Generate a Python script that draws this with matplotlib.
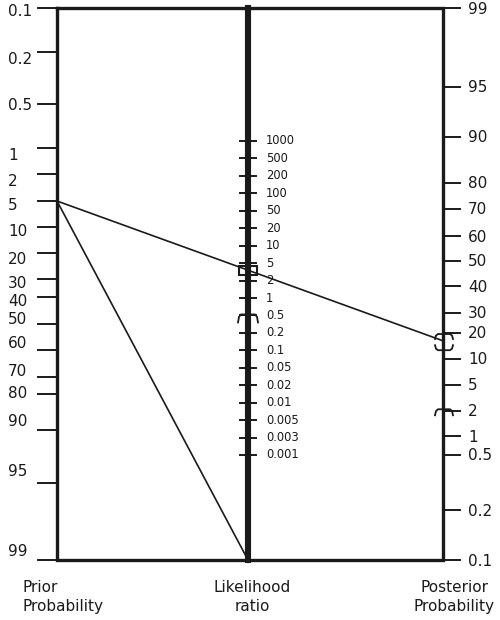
import matplotlib
matplotlib.use("Agg")
import matplotlib.pyplot as plt
from matplotlib.patches import Rectangle
import numpy as np

# nomogram scales: tick labels, their values and where they sit on each axis
prior_labels = ["0.1", "0.2", "0.5", "1", "2", "5", "10", "20", "30", "40",
                "50", "60", "70", "80", "90", "95", "99"]
prior_values = [0.1, 0.2, 0.5, 1, 2, 5, 10, 20, 30, 40, 50, 60, 70, 80, 90, 95, 99]
prior_scale = [8, 52, 104, 148, 174, 201, 227, 253, 279, 297,
               324, 350, 377, 394, 430, 483, 560]

lr_labels = ["1000", "500", "200", "100", "50", "20", "10", "5", "2", "1",
             "0.5", "0.2", "0.1", "0.05", "0.02", "0.01", "0.005", "0.003", "0.001"]

post_labels = ["99", "95", "90", "80", "70", "60", "50", "40", "30", "20",
               "10", "5", "2", "1", "0.5", "0.2", "0.1"]
post_values = [99, 95, 90, 80, 70, 60, 50, 40, 30, 20, 10, 5, 2, 1, 0.5, 0.2, 0.1]
post_scale = [8, 87, 137, 183, 209, 236, 261, 286, 313, 333,
              359, 385, 411, 436, 455, 510, 560]

# the worked example
pretest = 5
posttest = 17
post_ci = (13, 20)
post_ci2 = 2.2
lr_ci = "0.5"

X_LEFT, X_MID, X_RIGHT = 57, 248, 443
Y_TOP, Y_BOT = 8, 560

# left labels are hand placed a little off their ticks
prior_label_shift = [4, 7, 2, 8, 7, 5, 5, 7, 5, 5, -4, -6, -6, 0, -9, -11, -9]

fig = plt.figure(figsize=(5, 6.2), dpi=100)
ax = fig.add_axes([0, 0, 1, 1])
ax.set_xlim(0, 500)
ax.set_ylim(620, 0)
ax.axis("off")


def prior_y(v):
    return np.interp(v, prior_values, prior_scale)


def post_y(v):
    return np.interp(v, post_values[::-1], post_scale[::-1])


lr_scale = np.linspace(141, 455, len(lr_labels))

# frame and middle axis
ax.plot([X_LEFT, X_RIGHT, X_RIGHT, X_LEFT, X_LEFT],
        [Y_TOP, Y_TOP, Y_BOT, Y_BOT, Y_TOP], color="#1a1a1a", lw=2.4,
        solid_joinstyle="miter")
ax.plot([X_MID, X_MID], [Y_TOP, Y_BOT], color="#1a1a1a", lw=4.4)

# left axis
for lab, y, dy in zip(prior_labels, prior_scale, prior_label_shift):
    ax.plot([38, X_LEFT], [y, y], color="#1a1a1a", lw=1.4)
    ax.text(8, y + dy, lab, fontsize=11, ha="left", va="center", color="#1a1a1a")

# middle axis
for lab, y in zip(lr_labels, lr_scale):
    ax.plot([X_MID - 8, X_MID + 8], [y, y], color="#1a1a1a", lw=1.4)
    ax.text(266, y, lab, fontsize=8.3, ha="left", va="center", color="#1a1a1a")

# right axis
for lab, y in zip(post_labels, post_scale):
    ax.plot([X_RIGHT, 460], [y, y], color="#1a1a1a", lw=1.4)
    ax.text(468, y + 1, lab, fontsize=11, ha="left", va="center", color="#1a1a1a")

# lines through the nomogram
y0 = prior_y(pretest)
y1 = post_y(posttest)
ax.plot([X_LEFT, X_RIGHT], [y0, y1], color="#1a1a1a", lw=1.2)
ax.plot([X_LEFT, X_MID], [y0, Y_BOT], color="#1a1a1a", lw=1.2)

# crossing on the likelihood ratio axis
yc = y0 + (y1 - y0) * (X_MID - X_LEFT) / (X_RIGHT - X_LEFT)
ax.add_patch(Rectangle((X_MID - 9, yc - 4), 18, 9, fill=False,
                       edgecolor="#1a1a1a", lw=1.5))


# bracket marks
def cap(x0, x1, y, h):
    ax.plot([x0, x0 + 1, x0 + 3, x1 - 3, x1 - 1, x1],
            [y + h, y + h * 0.3, y, y, y + h * 0.3, y + h],
            color="#1a1a1a", lw=1.3)


ym = lr_scale[lr_labels.index(lr_ci)]
cap(X_MID - 10, X_MID + 10, ym - 1, 8)
cap(X_RIGHT - 8, X_RIGHT + 10, post_y(post_ci[1]) + 1, 5)
cap(X_RIGHT - 8, X_RIGHT + 10, post_y(post_ci[0]) - 1, -5)
cap(X_RIGHT - 8, X_RIGHT + 10, post_y(post_ci2), 6)

# axis titles
ax.text(22, 580, "Prior\nProbability", fontsize=11, ha="left", va="top",
        linespacing=1.35, color="#1a1a1a")
ax.text(252, 580, "Likelihood\nratio", fontsize=11, ha="center", va="top",
        linespacing=1.35, color="#1a1a1a")
ax.text(454, 580, "Posterior\nProbability", fontsize=11, ha="center", va="top",
        linespacing=1.35, color="#1a1a1a")

fig.savefig("out.png", dpi=100)
